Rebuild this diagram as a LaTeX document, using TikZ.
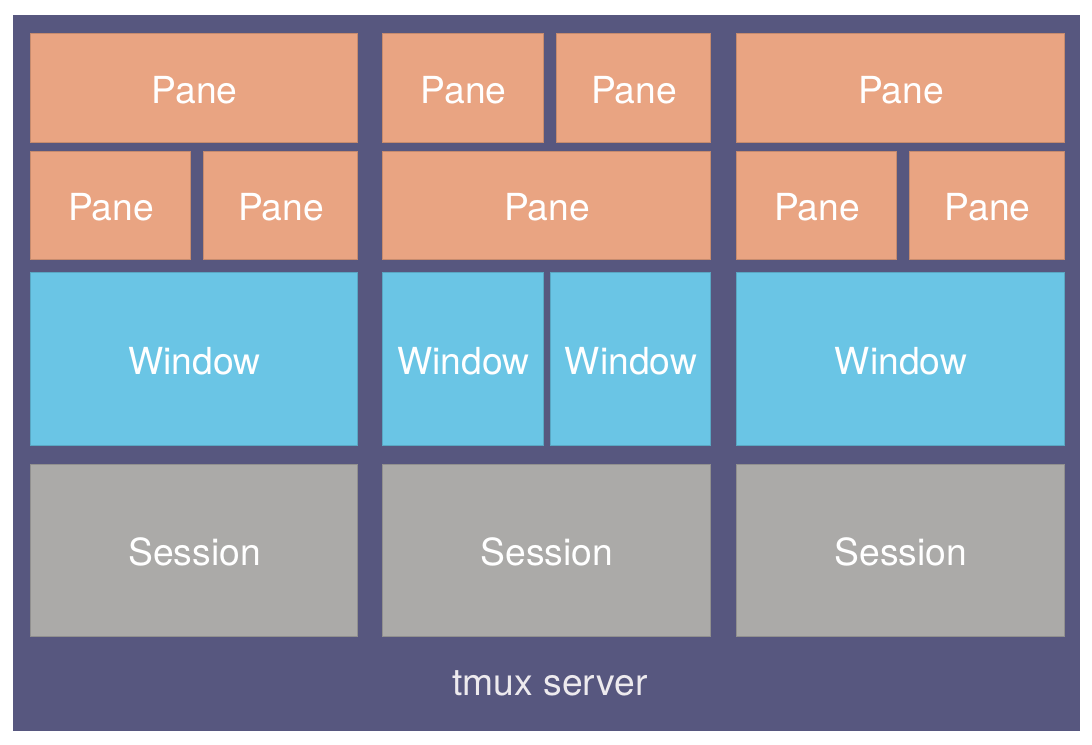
\documentclass[tikz,border=0pt]{standalone}
\usepackage{fontspec}
\setmainfont{TeX Gyre Heros}
\usetikzlibrary{fit}

\definecolor{serverbg}{HTML}{57577F}
\definecolor{panecol}{HTML}{E9A482}
\definecolor{windowcol}{HTML}{6AC5E5}
\definecolor{sessioncol}{HTML}{ABAAA8}
\definecolor{servertext}{HTML}{EDEAEE}

\begin{document}
\begin{tikzpicture}[x=0.02cm, y=-0.02cm, every node/.style = {
                  shape=rectangle, inner sep=0pt, outer sep=0pt,
                  text=white, font=\fontsize{21.2}{25}\selectfont},
                  every label/.style = {yshift=-0.045cm, xshift=0.02cm},
                  pane/.style = {fill=panecol, draw=panecol!85!black, line width=0.3pt},
                  window/.style = {fill=windowcol, draw=windowcol!85!black, line width=0.3pt},
                  session/.style = {fill=sessioncol, draw=sessioncol!85!black, line width=0.3pt}]
  \useasboundingbox (0,0) rectangle (1092,744);
  \node[fill=serverbg, fit={(13,15) (1080,731)}] (server) {};
  % first session
  \node[pane, fit={(30,33) (357,142)}, label=center:Pane] (pane1a) {};
  \node[pane, fit={(30,151) (190,259)}, label=center:Pane] (pane1b) {};
  \node[pane, fit={(203,151) (357,259)}, label=center:Pane] (pane1c) {};
  \node[window, fit={(30,272) (357,445)}, label=center:Window] (window1) {};
  \node[session, fit={(30,464) (357,636)}, label=center:Session] (session1) {};
  % second session
  \node[pane, fit={(382,33) (543,142)}, label=center:Pane] (pane2a) {};
  \node[pane, fit={(556,33) (710,142)}, label=center:Pane] (pane2b) {};
  \node[pane, fit={(382,151) (710,259)}, label=center:Pane] (pane2c) {};
  \node[window, fit={(382,272) (543,445)}, label=center:Window] (window2a) {};
  \node[window, fit={(550,272) (710,445)}, label=center:Window] (window2b) {};
  \node[session, fit={(382,464) (710,636)}, label=center:Session] (session2) {};
  % third session
  \node[pane, fit={(736,33) (1064,142)}, label=center:Pane] (pane3a) {};
  \node[pane, fit={(736,151) (896,259)}, label=center:Pane] (pane3b) {};
  \node[pane, fit={(909,151) (1064,259)}, label=center:Pane] (pane3c) {};
  \node[window, fit={(736,272) (1064,445)}, label=center:Window] (window3) {};
  \node[session, fit={(736,464) (1064,636)}, label=center:Session] (session3) {};
  \node[anchor=base, text=servertext] (label) at (550,695) {tmux server};
\end{tikzpicture}
\end{document}
